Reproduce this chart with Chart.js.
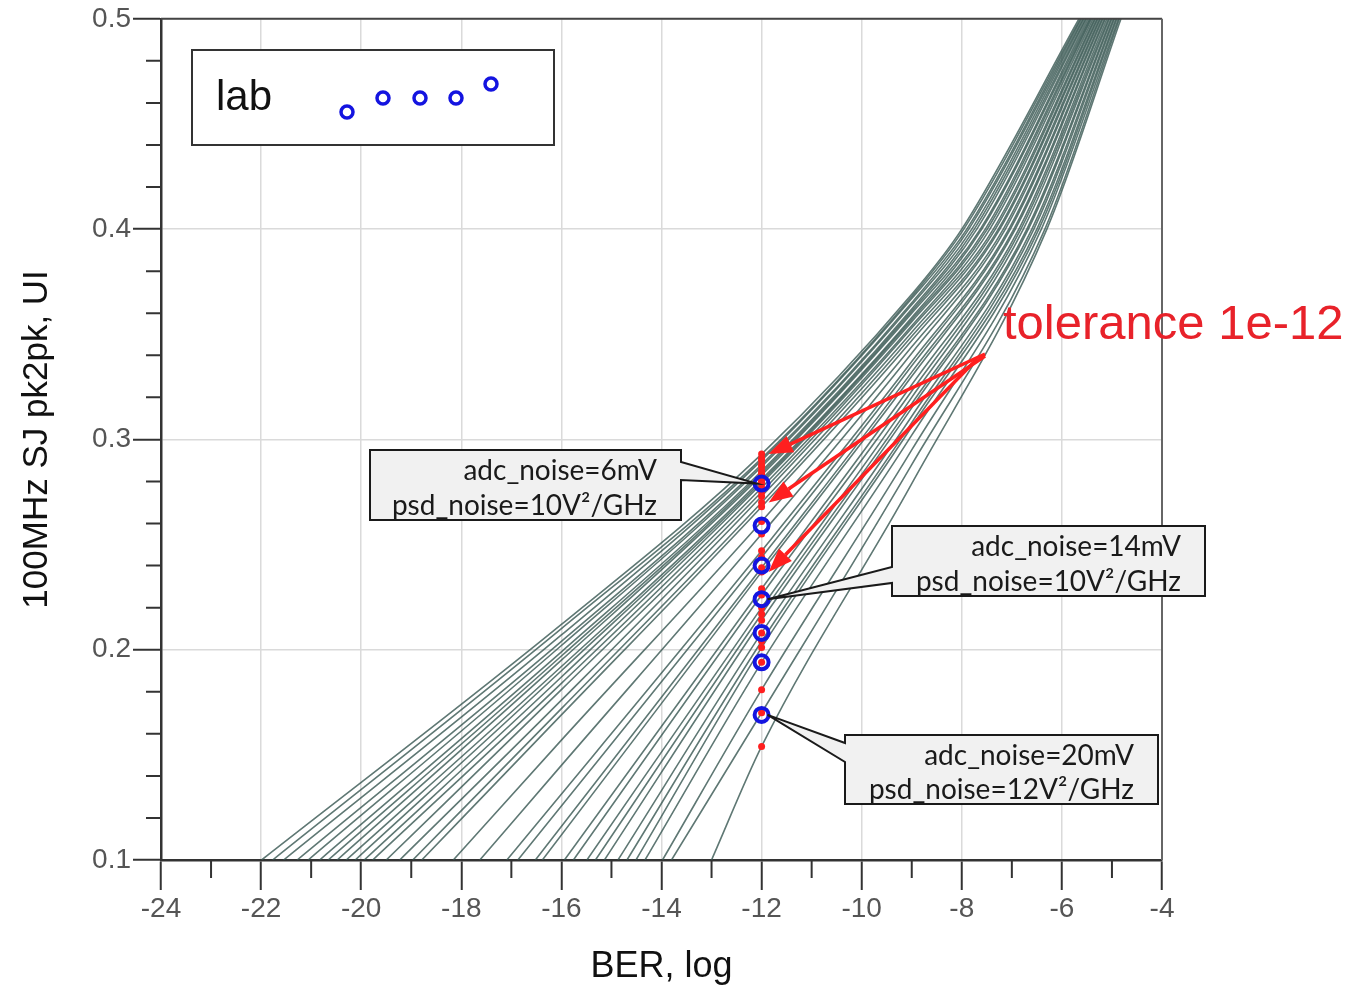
<!DOCTYPE html>
<html>
<head>
<meta charset="utf-8">
<script src="https://cdn.jsdelivr.net/npm/chart.js@4.4.1/dist/chart.umd.min.js"></script>
<style>
  html, body { margin: 0; padding: 0; background: #fff; }
  canvas { display: block; }
</style>
</head>
<body>
<canvas id="chartCanvas" width="1355" height="989"></canvas>
<script>
// axis ranges (BER as log10, SJ in UI)
const berMin = -24, berMax = -4, berStep = 2;
const sjMin = 0.1, sjMax = 0.5, sjStep = 0.1;

// one simulated jitter-tolerance curve per entry, read left to right at the bottom edge
// BER where each curve sits at SJ = 0.1
const startBer = [-21.99, -21.77, -21.55, -21.28, -21.06, -20.83, -20.66, -20.48, -20.30, -20.12,
                  -19.94, -19.77, -19.50, -19.23, -18.97, -18.79, -18.16, -17.63, -17.09, -16.87,
                  -16.52, -16.38, -15.94, -15.76, -15.49, -15.32, -15.14, -14.87, -14.69, -14.51,
                  -14.33, -13.98, -13.80, -13.00];
// SJ at BER 1e-16 (only curves that start left of it)
const sjAt16 = [0.212, 0.210, 0.207, 0.204, 0.202, 0.199, 0.197, 0.195, 0.192, 0.190,
                0.187, 0.184, 0.181, 0.176, 0.172, 0.169, 0.157, 0.145, null, null,
                null, null, null, null, null, null, null, null, null, null,
                null, null, null, null];
// SJ tolerance at BER 1e-12 (red markers)
const sjAt12 = [0.293, 0.291, 0.290, 0.288, 0.287, 0.285, 0.284, 0.283, 0.281, 0.280,
                0.279, 0.277, 0.275, 0.273, 0.270, 0.268, 0.261, 0.255, 0.247, 0.244,
                0.239, 0.237, 0.229, 0.226, 0.220, 0.217, 0.214, 0.208, 0.204, 0.201,
                0.194, 0.181, 0.170, 0.154];
// SJ at BER 1e-9
const sjAt9 = [0.369, 0.368, 0.367, 0.365, 0.364, 0.362, 0.361, 0.360, 0.358, 0.357,
               0.356, 0.354, 0.353, 0.351, 0.349, 0.347, 0.344, 0.341, 0.337, 0.335,
               0.332, 0.330, 0.326, 0.323, 0.320, 0.317, 0.315, 0.311, 0.308, 0.306,
               0.302, 0.295, 0.288, 0.279];
// BER where each curve reaches SJ = 0.4 and SJ = 0.5
const berAt040 = [-8.00, -7.96, -7.90, -7.86, -7.80, -7.75, -7.70, -7.63, -7.60, -7.53,
                  -7.49, -7.44, -7.37, -7.33, -7.27, -7.24, -7.17, -7.13, -7.06, -7.03,
                  -6.96, -6.93, -6.86, -6.82, -6.77, -6.70, -6.67, -6.60, -6.56, -6.50,
                  -6.46, -6.41, -6.34, -6.30];
const berAt050 = [-5.66, -5.63, -5.61, -5.58, -5.56, -5.53, -5.51, -5.48, -5.45, -5.43,
                  -5.41, -5.38, -5.35, -5.33, -5.30, -5.28, -5.25, -5.23, -5.20, -5.18,
                  -5.15, -5.13, -5.10, -5.07, -5.05, -5.02, -5.00, -4.97, -4.95, -4.92,
                  -4.90, -4.87, -4.85, -4.82];

// lab measurements at BER 1e-12 (blue circles)
const labBer = [-12, -12, -12, -12, -12, -12, -12];
const labSj = [0.279, 0.259, 0.240, 0.224, 0.208, 0.194, 0.169];

const RED = "#ff1f1f";
const BLUE = "#1414e0";
const CURVE = "rgba(55, 86, 81, 0.8)";

function curvePoints(i) {
  const pts = [{ x: startBer[i], y: sjMin }];
  if (sjAt16[i] !== null) pts.push({ x: -16, y: sjAt16[i] });
  pts.push({ x: -12, y: sjAt12[i] });
  pts.push({ x: -9, y: sjAt9[i] });
  pts.push({ x: berAt040[i], y: 0.4 });
  pts.push({ x: berAt050[i], y: sjMax });
  return pts;
}

const curveSets = startBer.map((_, i) => ({
  label: "curve " + (i + 1),
  data: curvePoints(i),
  showLine: true,
  borderColor: CURVE,
  borderWidth: 1.6,
  pointRadius: 0,
  cubicInterpolationMode: "monotone"
}));

// callout boxes: box = [left, top, width, height], base = wedge span on the box side
const notes = [
  { lines: ["adc_noise=6mV", "psd_noise=10V\u00b2/GHz"], box: [370, 450, 311, 70], side: "right", base: [462, 480], mark: 0 },
  { lines: ["adc_noise=14mV", "psd_noise=10V\u00b2/GHz"], box: [892, 526, 313, 70], side: "left", base: [567, 583], mark: 3 },
  { lines: ["adc_noise=20mV", "psd_noise=12V\u00b2/GHz"], box: [845, 735, 313, 69], side: "left", base: [743, 762], mark: 6 }
];

// red arrows from the label to three of the 1e-12 markers
const arrowFrom = [[985, 354], [985, 356], [976, 360]];
const arrowTo = [0, 14, 21];

function drawArrow(ctx, x1, y1, x2, y2) {
  const a = Math.atan2(y2 - y1, x2 - x1);
  const len = 24, half = 9;
  const bx = x2 - len * Math.cos(a), by = y2 - len * Math.sin(a);
  ctx.beginPath();
  ctx.moveTo(x1, y1);
  ctx.lineTo(bx, by);
  ctx.stroke();
  ctx.beginPath();
  ctx.moveTo(x2, y2);
  ctx.lineTo(bx + half * Math.sin(a), by - half * Math.cos(a));
  ctx.lineTo(bx - half * Math.sin(a), by + half * Math.cos(a));
  ctx.closePath();
  ctx.fill();
}

function drawCallout(ctx, note, tip) {
  const [x, y, w, h] = note.box;
  const [b1, b2] = note.base;
  ctx.beginPath();
  if (note.side === "right") {
    ctx.moveTo(x, y);
    ctx.lineTo(x + w, y);
    ctx.lineTo(x + w, b1);
    ctx.lineTo(tip.x, tip.y);
    ctx.lineTo(x + w, b2);
    ctx.lineTo(x + w, y + h);
    ctx.lineTo(x, y + h);
  } else {
    ctx.moveTo(x, y);
    ctx.lineTo(x + w, y);
    ctx.lineTo(x + w, y + h);
    ctx.lineTo(x, y + h);
    ctx.lineTo(x, b2);
    ctx.lineTo(tip.x, tip.y);
    ctx.lineTo(x, b1);
  }
  ctx.closePath();
  ctx.fillStyle = "#f1f1f1";
  ctx.fill();

  ctx.fillStyle = "#1a1a1a";
  ctx.font = "28px Lato";
  ctx.textAlign = "right";
  ctx.textBaseline = "alphabetic";
  ctx.fillText(note.lines[0], x + w - 24, y + 30);
  ctx.fillText(note.lines[1], x + w - 24, y + h - 5);

  ctx.strokeStyle = "#1a1a1a";
  ctx.lineWidth = 2;
  ctx.stroke();
}

const decor = {
  id: "decor",
  afterDatasetsDraw(chart) {
    const { ctx, chartArea: area, scales: { x, y } } = chart;
    ctx.save();

    // frame on top and right
    ctx.lineWidth = 2;
    ctx.strokeStyle = "#444";
    ctx.beginPath();
    ctx.moveTo(area.left, area.top);
    ctx.lineTo(area.right, area.top);
    ctx.stroke();
    ctx.strokeStyle = "#666";
    ctx.beginPath();
    ctx.moveTo(area.right, area.top);
    ctx.lineTo(area.right, area.bottom);
    ctx.stroke();

    // minor ticks
    ctx.strokeStyle = "#333";
    ctx.lineWidth = 2;
    ctx.beginPath();
    for (let v = berMin + 1; v < berMax; v += berStep) {
      const px = x.getPixelForValue(v);
      ctx.moveTo(px, area.bottom);
      ctx.lineTo(px, area.bottom + 18);
    }
    for (let k = 1; k < 20; k++) {
      if (k % 5 === 0) continue;
      const py = y.getPixelForValue(sjMin + k * 0.02);
      ctx.moveTo(area.left, py);
      ctx.lineTo(area.left - 15, py);
    }
    ctx.stroke();

    // legend box
    ctx.fillStyle = "#fff";
    ctx.fillRect(192, 50, 362, 95);
    ctx.strokeStyle = "#333";
    ctx.lineWidth = 2;
    ctx.strokeRect(192, 50, 362, 95);
    ctx.fillStyle = "#111";
    ctx.font = "42px 'Liberation Sans'";
    ctx.textAlign = "left";
    ctx.textBaseline = "alphabetic";
    ctx.fillText("lab", 216, 110);
    ctx.strokeStyle = BLUE;
    ctx.lineWidth = 3.5;
    [[155, 62], [191, 48], [228, 48], [264, 48], [299, 34]].forEach(([dx, dy]) => {
      ctx.beginPath();
      ctx.arc(192 + dx, 50 + dy, 6, 0, Math.PI * 2);
      ctx.stroke();
    });

    // callouts
    notes.forEach(n => {
      const px = x.getPixelForValue(labBer[n.mark]);
      const py = y.getPixelForValue(labSj[n.mark]);
      const tip = { x: n.side === "right" ? px - 5 : px + 6, y: py };
      drawCallout(ctx, n, tip);
    });

    // arrows and label
    ctx.strokeStyle = RED;
    ctx.fillStyle = RED;
    ctx.lineWidth = 3.5;
    arrowTo.forEach((idx, k) => {
      const tx = x.getPixelForValue(-12) + 7;
      const ty = y.getPixelForValue(sjAt12[idx]);
      drawArrow(ctx, arrowFrom[k][0], arrowFrom[k][1], tx, ty);
    });
    ctx.fillStyle = "#e8222a";
    ctx.font = "49px 'Liberation Sans'";
    ctx.textAlign = "left";
    ctx.fillText("tolerance 1e-12", 1003, 339);

    ctx.restore();
  }
};

const ctx = document.getElementById("chartCanvas").getContext("2d");
new Chart(ctx, {
  type: "scatter",
  data: {
    datasets: [
      {
        label: "lab",
        data: labBer.map((b, i) => ({ x: b, y: labSj[i] })),
        pointRadius: 7,
        pointBorderWidth: 4,
        pointBorderColor: BLUE,
        pointBackgroundColor: "rgba(0,0,0,0)"
      },
      {
        label: "tolerance 1e-12",
        data: sjAt12.map(v => ({ x: -12, y: v })),
        pointRadius: 3.5,
        pointBorderWidth: 0,
        pointBackgroundColor: RED
      },
      ...curveSets
    ]
  },
  options: {
    responsive: false,
    animation: false,
    layout: { padding: { top: 17, right: 193, left: 0, bottom: 0 } },
    plugins: { legend: { display: false }, tooltip: { enabled: false } },
    scales: {
      x: {
        type: "linear",
        min: berMin,
        max: berMax,
        afterFit: s => { s.height = 129; },
        ticks: {
          stepSize: berStep,
          color: "#555",
          padding: 2,
          maxRotation: 0,
          font: { family: "'Liberation Sans'", size: 28 }
        },
        grid: { color: "#dadada", lineWidth: 1.5, tickColor: "#333", tickLength: 30, tickWidth: 2 },
        border: { color: "#333", width: 2.5 },
        title: {
          display: true,
          text: "BER, log",
          color: "#111",
          padding: 0,
          font: { family: "'Liberation Sans'", size: 36 }
        }
      },
      y: {
        type: "linear",
        min: sjMin,
        max: sjMax,
        afterFit: s => { s.width = 161; },
        ticks: {
          stepSize: sjStep,
          color: "#555",
          padding: 2,
          font: { family: "'Liberation Sans'", size: 28 },
          callback: v => v.toFixed(1)
        },
        grid: { color: "#dadada", lineWidth: 1.5, tickColor: "#333", tickLength: 28, tickWidth: 2 },
        border: { color: "#333", width: 2.5 },
        title: {
          display: true,
          text: "100MHz SJ pk2pk, UI",
          color: "#111",
          padding: { top: 16, bottom: 0 },
          font: { family: "'Liberation Sans'", size: 35 }
        }
      }
    }
  },
  plugins: [decor]
});
</script>
</body>
</html>
